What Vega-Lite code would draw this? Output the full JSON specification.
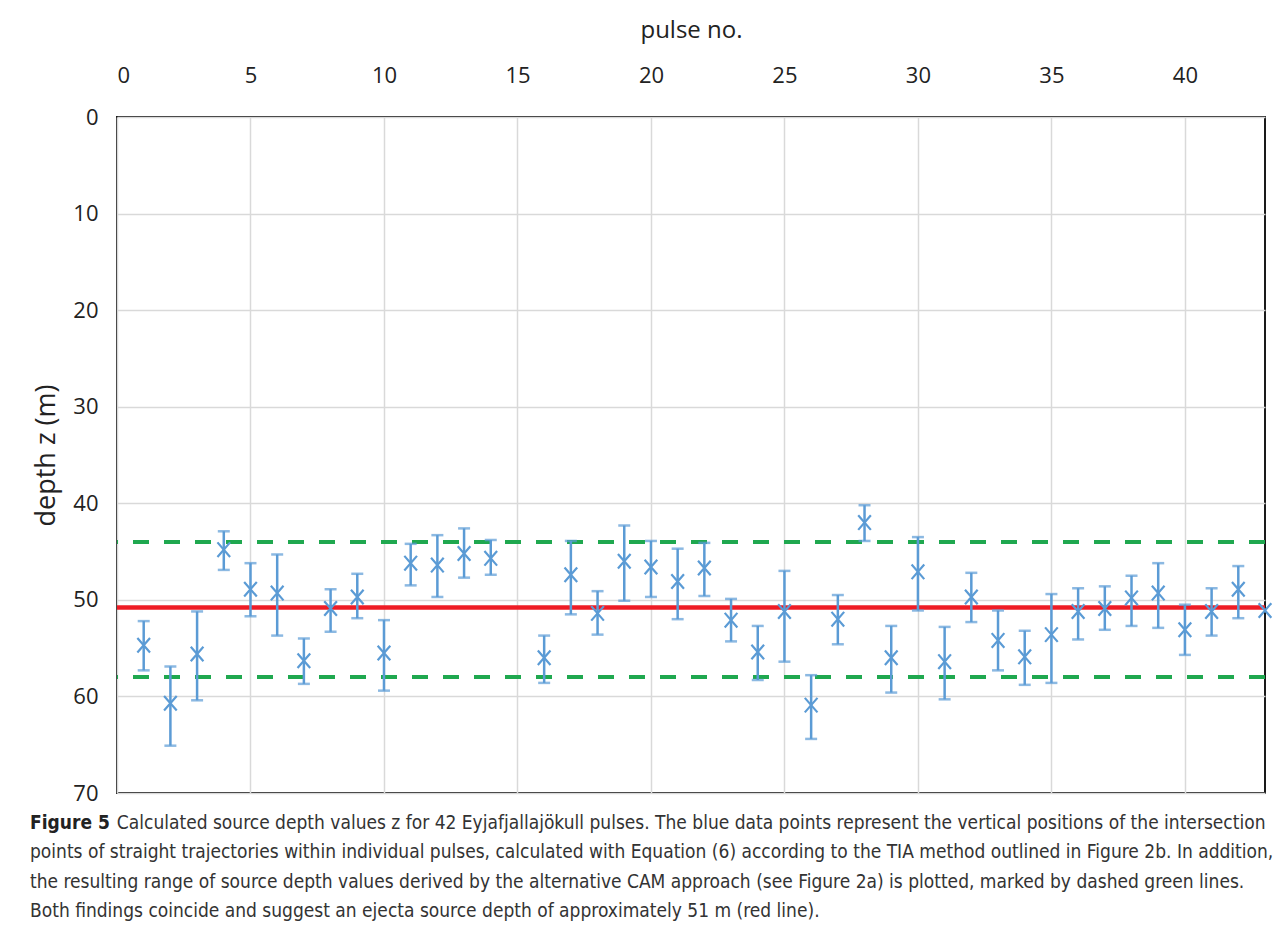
{
  "$schema": "https://vega.github.io/schema/vega-lite/v6.json",
  "width": 1148,
  "height": 676,
  "autosize": {"type": "none"},
  "padding": {"left": 117, "top": 117, "right": 16, "bottom": 133},
  "background": "white",
  "config": {
    "view": {"stroke": "#1a1a1a", "strokeWidth": 2},
    "font": "Open Sans"
  },
  "datasets": {
    "pulses": [
      {"pulse": 1, "z": 54.7, "lo": 52.2, "hi": 57.3},
      {"pulse": 2, "z": 60.7, "lo": 56.9, "hi": 65.1},
      {"pulse": 3, "z": 55.6, "lo": 51.2, "hi": 60.4},
      {"pulse": 4, "z": 44.8, "lo": 42.9, "hi": 46.9},
      {"pulse": 5, "z": 48.9, "lo": 46.2, "hi": 51.7},
      {"pulse": 6, "z": 49.3, "lo": 45.3, "hi": 53.7},
      {"pulse": 7, "z": 56.3, "lo": 54.0, "hi": 58.7},
      {"pulse": 8, "z": 50.9, "lo": 48.9, "hi": 53.3},
      {"pulse": 9, "z": 49.7, "lo": 47.3, "hi": 51.9},
      {"pulse": 10, "z": 55.5, "lo": 52.1, "hi": 59.4},
      {"pulse": 11, "z": 46.2, "lo": 44.2, "hi": 48.5},
      {"pulse": 12, "z": 46.4, "lo": 43.3, "hi": 49.7},
      {"pulse": 13, "z": 45.2, "lo": 42.6, "hi": 47.7},
      {"pulse": 14, "z": 45.7, "lo": 43.8, "hi": 47.4},
      {"pulse": 16, "z": 56.0, "lo": 53.7, "hi": 58.6},
      {"pulse": 17, "z": 47.4, "lo": 43.9, "hi": 51.5},
      {"pulse": 18, "z": 51.4, "lo": 49.1, "hi": 53.6},
      {"pulse": 19, "z": 46.0, "lo": 42.3, "hi": 50.1},
      {"pulse": 20, "z": 46.6, "lo": 43.9, "hi": 49.7},
      {"pulse": 21, "z": 48.1, "lo": 44.7, "hi": 52.0},
      {"pulse": 22, "z": 46.7, "lo": 44.1, "hi": 49.6},
      {"pulse": 23, "z": 52.1, "lo": 49.9, "hi": 54.3},
      {"pulse": 24, "z": 55.4, "lo": 52.7, "hi": 58.3},
      {"pulse": 25, "z": 51.2, "lo": 47.0, "hi": 56.4},
      {"pulse": 26, "z": 60.9, "lo": 57.8, "hi": 64.4},
      {"pulse": 27, "z": 52.0, "lo": 49.5, "hi": 54.6},
      {"pulse": 28, "z": 42.0, "lo": 40.2, "hi": 43.9},
      {"pulse": 29, "z": 56.0, "lo": 52.7, "hi": 59.6},
      {"pulse": 30, "z": 47.1, "lo": 43.5, "hi": 51.1},
      {"pulse": 31, "z": 56.4, "lo": 52.8, "hi": 60.3},
      {"pulse": 32, "z": 49.7, "lo": 47.2, "hi": 52.3},
      {"pulse": 33, "z": 54.2, "lo": 51.1, "hi": 57.3},
      {"pulse": 34, "z": 55.9, "lo": 53.2, "hi": 58.8},
      {"pulse": 35, "z": 53.6, "lo": 49.4, "hi": 58.6},
      {"pulse": 36, "z": 51.2, "lo": 48.8, "hi": 54.1},
      {"pulse": 37, "z": 50.9, "lo": 48.6, "hi": 53.1},
      {"pulse": 38, "z": 49.8, "lo": 47.5, "hi": 52.7},
      {"pulse": 39, "z": 49.3, "lo": 46.2, "hi": 52.9},
      {"pulse": 40, "z": 53.1, "lo": 50.5, "hi": 55.7},
      {"pulse": 41, "z": 51.2, "lo": 48.8, "hi": 53.7},
      {"pulse": 42, "z": 48.9, "lo": 46.5, "hi": 51.9},
      {"pulse": 43, "z": 51.1, "lo": null, "hi": null}
    ],
    "cam": [{"z": 44.0, "bound": "upper"}, {"z": 58.0, "bound": "lower"}],
    "tia": [{"z": 50.8}]
  },
  "title": {
    "text": "Figure 5",
    "subtitle": [
      "\u200b\u00a0\u00a0\u00a0\u00a0\u00a0\u00a0\u00a0\u00a0\u00a0\u00a0\u00a0\u00a0\u00a0\u00a0\u00a0\u00a0Calculated source depth values z for 42 Eyjafjallajökull pulses. The blue data points represent the vertical positions of the intersection",
      "points of straight trajectories within individual pulses, calculated with Equation (6) according to the TIA method outlined in Figure 2b. In addition,",
      "the resulting range of source depth values derived by the alternative CAM approach (see Figure 2a) is plotted, marked by dashed green lines.",
      "Both findings coincide and suggest an ejecta source depth of approximately 51 m (red line)."
    ],
    "orient": "bottom",
    "anchor": "start",
    "frame": "group",
    "dx": -87,
    "offset": 10,
    "font": "Liberation Sans Narrow, DejaVu Sans Condensed, Roboto Condensed, Liberation Sans",
    "fontSize": 19,
    "fontWeight": "bold",
    "color": "#222222",
    "subtitleFont": "Liberation Sans Narrow, DejaVu Sans Condensed, Roboto Condensed, Liberation Sans",
    "subtitleFontSize": 19,
    "subtitleColor": "#333333",
    "subtitleLineHeight": 29.3,
    "subtitlePadding": -19
  },
  "layer": [
    {
      "data": {"name": "cam"},
      "mark": {"type": "rule", "color": "#1fa84f", "strokeWidth": 4, "strokeDash": [16, 15]},
      "encoding": {
        "y": {
          "field": "z", "type": "quantitative",
          "scale": {"domain": [0, 70], "reverse": true, "nice": false, "zero": false},
          "axis": {
            "orient": "left",
            "values": [0, 10, 20, 30, 40, 50, 60, 70],
            "grid": true, "gridColor": "#d9d9d9", "gridWidth": 1.5,
            "ticks": false, "domain": false,
            "labelFontSize": 22, "labelColor": "#222222", "labelPadding": 19,
            "labelFont": "Open Sans",
            "title": "depth z (m)", "titleFont": "Open Sans", "titleFontSize": 27,
            "titleFontWeight": "normal", "titleColor": "#222222", "titlePadding": 12
          }
        }
      }
    },
    {
      "data": {"name": "tia"},
      "mark": {"type": "rule", "color": "#ee1c25", "strokeWidth": 4.5},
      "encoding": {
        "y": {"field": "z", "type": "quantitative"}
      }
    },
    {
      "data": {"name": "pulses"},
      "transform": [{"filter": "datum.lo != null"}],
      "mark": {"type": "rule", "color": "#5b9bd5", "strokeWidth": 2.5},
      "encoding": {
        "x": {
          "field": "pulse", "type": "quantitative",
          "scale": {"domain": [0, 43], "nice": false, "zero": false},
          "axis": {
            "orient": "top",
            "values": [0, 5, 10, 15, 20, 25, 30, 35, 40],
            "grid": true, "gridColor": "#d9d9d9", "gridWidth": 1.5,
            "ticks": false, "domain": false,
            "labelFontSize": 22, "labelColor": "#222222", "labelPadding": 30,
            "labelFont": "Open Sans",
            "title": "pulse no.", "titleFont": "Open Sans", "titleFontSize": 24,
            "titleFontWeight": "normal", "titleColor": "#222222", "titlePadding": 22
          }
        },
        "y": {"field": "lo", "type": "quantitative"},
        "y2": {"field": "hi"}
      }
    },
    {
      "data": {"name": "pulses"},
      "transform": [{"filter": "datum.lo != null"}],
      "mark": {"type": "tick", "orient": "horizontal", "color": "#5b9bd5", "size": 12, "thickness": 2.5},
      "encoding": {
        "x": {"field": "pulse", "type": "quantitative"},
        "y": {"field": "lo", "type": "quantitative"}
      }
    },
    {
      "data": {"name": "pulses"},
      "transform": [{"filter": "datum.hi != null"}],
      "mark": {"type": "tick", "orient": "horizontal", "color": "#5b9bd5", "size": 12, "thickness": 2.5},
      "encoding": {
        "x": {"field": "pulse", "type": "quantitative"},
        "y": {"field": "hi", "type": "quantitative"}
      }
    },
    {
      "data": {"name": "pulses"},
      "mark": {
        "type": "point",
        "shape": "M-1,-1.15L1,1.15M1,-1.15L-1,1.15",
        "filled": false,
        "color": "#5b9bd5",
        "strokeWidth": 2.2,
        "size": 160,
        "opacity": 1,
        "clip": false
      },
      "encoding": {
        "x": {"field": "pulse", "type": "quantitative"},
        "y": {"field": "z", "type": "quantitative"}
      }
    }
  ]
}
